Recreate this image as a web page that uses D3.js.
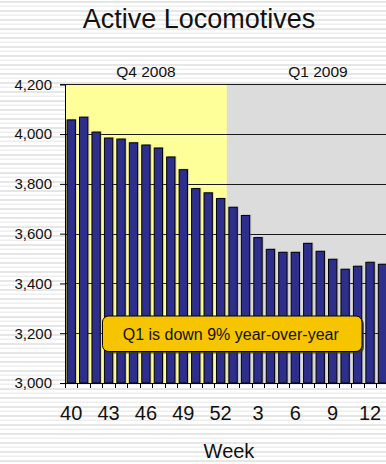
<!DOCTYPE html>
<html>
<head>
<meta charset="utf-8">
<script src="https://cdn.jsdelivr.net/npm/d3@7"></script>
<style>
  html, body { margin: 0; padding: 0; background: #fff; }
  svg { display: block; font-family: "Liberation Sans", Arial, sans-serif; }
</style>
</head>
<body>
<div id="chart"></div>
<script>
// Weekly active locomotive counts, Q4 2008 through Q1 2009
const weeks = [40, 41, 42, 43, 44, 45, 46, 47, 48, 49, 50, 51, 52,
               1, 2, 3, 4, 5, 6, 7, 8, 9, 10, 11, 12, 13];
const locomotives = [4057, 4068, 4008, 3984, 3980, 3965, 3956, 3944, 3908, 3857, 3781, 3764, 3741,
                     3706, 3673, 3584, 3537, 3525, 3525, 3561, 3529, 3497, 3457, 3469, 3485, 3477];
const quarterNames = ["Q4 2008", "Q1 2009"];
const quarterWeeks = [13, 13];
const quarterFills = ["#ffff99", "#dcdcdc"];
const tickWeeks = [40, 43, 46, 49, 52, 3, 6, 9, 12];
const yTicks = [3000, 3200, 3400, 3600, 3800, 4000, 4200];
const titleText = "Active Locomotives";
const xTitle = "Week";
const note = "Q1 is down 9% year-over-year";

const W = 386, H = 464;
const plotL = 65, plotT = 84.3, plotB = 383;
const stepW = 12.45;
const plotR = plotL + stepW * weeks.length;

const svg = d3.select("#chart").append("svg")
  .attr("width", W).attr("height", H);

// striped backdrop
const defs = svg.append("defs");
const pat = defs.append("pattern")
  .attr("id", "stripes").attr("patternUnits", "userSpaceOnUse")
  .attr("width", 8).attr("height", 9);
pat.append("rect").attr("width", 8).attr("height", 9).attr("fill", "#ffffff");
pat.append("rect").attr("y", 1).attr("width", 8).attr("height", 2).attr("fill", "#e6e6e6");
pat.append("rect").attr("y", 5.5).attr("width", 8).attr("height", 1.5).attr("fill", "#eeeeee");
svg.append("rect").attr("width", W).attr("height", H).attr("fill", "url(#stripes)");

const keys = weeks.map((w, i) => i);
const x = d3.scaleBand().domain(keys).range([plotL, plotR])
  .paddingInner(0.33).paddingOuter(0.165);
const y = d3.scaleLinear().domain([3000, 4200]).range([plotB, plotT]);

// quarter shading
let start = 0;
const quarters = quarterNames.map((name, qi) => {
  const q = { name, fill: quarterFills[qi], i0: start, i1: start + quarterWeeks[qi] };
  start += quarterWeeks[qi];
  return q;
});
const bandEdge = i => plotL + x.step() * i;

svg.selectAll("rect.quarter").data(quarters).join("rect")
  .attr("class", "quarter")
  .attr("x", d => bandEdge(d.i0))
  .attr("width", d => bandEdge(d.i1) - bandEdge(d.i0))
  .attr("y", y(4200))
  .attr("height", y(3000) - y(4200))
  .attr("fill", d => d.fill);

svg.selectAll("text.quarter").data(quarters).join("text")
  .attr("class", "quarter")
  .attr("x", (d, i) => i === 0 ? (bandEdge(d.i0) + bandEdge(d.i1)) / 2 : 318)
  .attr("y", 76.5)
  .attr("text-anchor", "middle")
  .attr("font-size", 15.5)
  .attr("fill", "#111")
  .text(d => d.name);

// gridlines
svg.append("g").selectAll("line").data(yTicks.filter(v => v > 3000)).join("line")
  .attr("x1", plotL).attr("x2", plotR)
  .attr("y1", d => Math.round(y(d)) + 0.5).attr("y2", d => Math.round(y(d)) + 0.5)
  .attr("stroke", "#1a1a1a").attr("stroke-width", 1);

// bars with a soft drop shadow
const bars = svg.append("g");
bars.selectAll("rect.shadow").data(locomotives).join("rect")
  .attr("class", "shadow")
  .attr("x", (d, i) => x(i) + 1.5)
  .attr("y", d => y(d) - 1)
  .attr("width", x.bandwidth())
  .attr("height", d => y(3000) - y(d) + 1)
  .attr("fill", "#808080").attr("opacity", 0.35);
bars.selectAll("rect.bar").data(locomotives).join("rect")
  .attr("class", "bar")
  .attr("x", (d, i) => x(i))
  .attr("y", d => y(d))
  .attr("width", x.bandwidth())
  .attr("height", d => y(3000) - y(d))
  .attr("fill", "#2e2e8c")
  .attr("stroke", "#000")
  .attr("stroke-width", 1);

// y axis
const yAxis = d3.axisLeft(y).tickValues(yTicks).tickSize(5).tickPadding(8)
  .tickFormat(d3.format(","));
const yg = svg.append("g").attr("transform", `translate(${plotL},0)`).call(yAxis);
yg.select(".domain").attr("stroke", "#000");
yg.selectAll(".tick line").attr("stroke", "#000");
yg.selectAll("text").attr("font-size", 15).attr("fill", "#111")
  .attr("font-family", "Liberation Sans, Arial, sans-serif");

// x axis: tick marks between weeks, labels every third week
const xg = svg.append("g");
xg.append("line").attr("x1", plotL).attr("x2", plotR)
  .attr("y1", plotB + 0.5).attr("y2", plotB + 0.5).attr("stroke", "#000");
xg.selectAll("line.tk").data(d3.range(weeks.length + 1)).join("line")
  .attr("class", "tk")
  .attr("x1", i => Math.round(bandEdge(i)) + 0.5).attr("x2", i => Math.round(bandEdge(i)) + 0.5)
  .attr("y1", plotB).attr("y2", plotB + 5).attr("stroke", "#000");
xg.selectAll("text").data(keys.filter(i => tickWeeks.includes(weeks[i]) && (i < 13 ? weeks[i] >= 40 : weeks[i] < 40))).join("text")
  .attr("x", i => x(i) + x.bandwidth() / 2)
  .attr("y", 420)
  .attr("text-anchor", "middle")
  .attr("font-size", 20)
  .attr("fill", "#111")
  .text(i => weeks[i]);

// titles
svg.append("text").attr("x", 199).attr("y", 28).attr("text-anchor", "middle")
  .attr("font-size", 27).attr("fill", "#111").text(titleText);
svg.append("text").attr("x", 229).attr("y", 458).attr("text-anchor", "middle")
  .attr("font-size", 20).attr("fill", "#111").text(xTitle);

// callout
const nb = { x: 102.5, y: 316, w: 259.5, h: 35.5 };
svg.append("rect").attr("x", nb.x + 2).attr("y", nb.y + 2).attr("width", nb.w).attr("height", nb.h)
  .attr("rx", 6).attr("fill", "#333").attr("opacity", 0.75);
svg.append("rect").attr("x", nb.x).attr("y", nb.y).attr("width", nb.w).attr("height", nb.h)
  .attr("rx", 6).attr("fill", "#f7c500").attr("stroke", "#000").attr("stroke-width", 1);
svg.append("text").attr("x", nb.x + nb.w / 2 - 1.5).attr("y", 339.5).attr("text-anchor", "middle")
  .attr("font-size", 16).attr("fill", "#111").text(note);
</script>
</body>
</html>
